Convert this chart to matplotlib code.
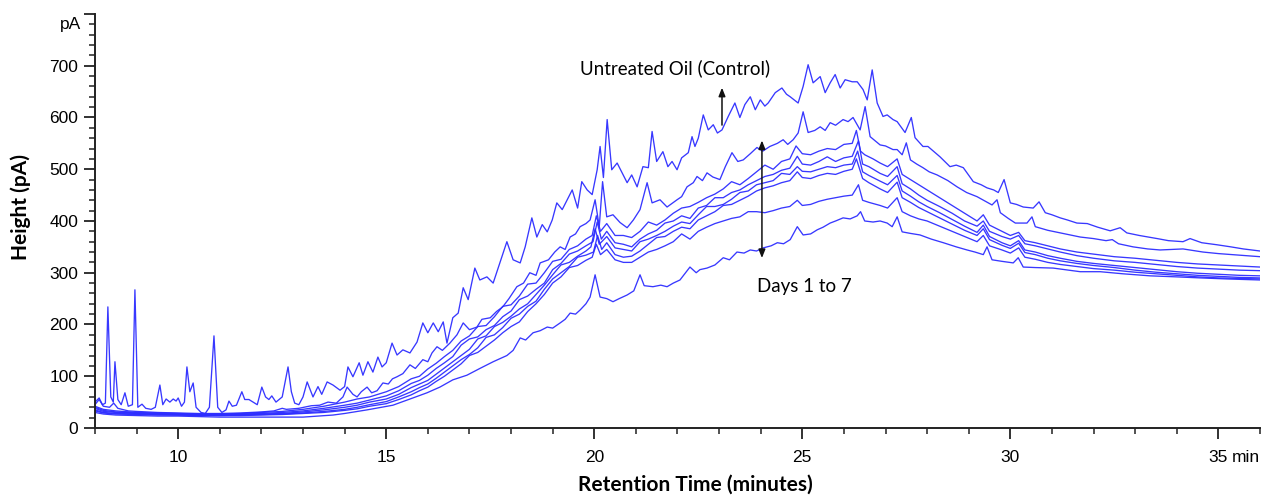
import matplotlib
matplotlib.use("Agg")
import matplotlib.pyplot as plt
from matplotlib.ticker import MultipleLocator

# ---------------- data (retention time in min, height in pA) ----------------
control = [
    (8.0, 50), (8.1, 58), (8.18, 45), (8.25, 48), (8.31, 234), (8.38, 60), (8.44, 50), (8.48, 128),
    (8.55, 55), (8.63, 45), (8.72, 68), (8.8, 42), (8.9, 45), (8.96, 267), (9.03, 40), (9.13, 46),
    (9.22, 38), (9.35, 36), (9.45, 40), (9.56, 83), (9.63, 45), (9.71, 56), (9.8, 50), (9.88, 56),
    (9.95, 52), (10.0, 58), (10.08, 42), (10.15, 50), (10.21, 118), (10.28, 70), (10.36, 87),
    (10.43, 40), (10.55, 30), (10.65, 28), (10.75, 40), (10.86, 178), (10.95, 40), (11.05, 30),
    (11.15, 35), (11.22, 52), (11.3, 42), (11.4, 44), (11.53, 70), (11.6, 55), (11.7, 55),
    (11.8, 50), (11.9, 45), (12.01, 79), (12.1, 60), (12.18, 55), (12.25, 62), (12.35, 50),
    (12.5, 60), (12.64, 118), (12.72, 70), (12.8, 48), (12.9, 45), (13.0, 60), (13.1, 89),
    (13.24, 60), (13.36, 80), (13.45, 65), (13.58, 89), (13.72, 83), (13.89, 73), (14.0, 80),
    (14.08, 118), (14.2, 99), (14.35, 126), (14.44, 102), (14.56, 128), (14.68, 108), (14.8, 137),
    (14.9, 118), (15.0, 126), (15.14, 164), (15.26, 141), (15.4, 151), (15.57, 145), (15.74, 166),
    (15.88, 203), (16.0, 184), (16.13, 203), (16.25, 186), (16.37, 205), (16.46, 164), (16.6, 213),
    (16.73, 222), (16.85, 271), (16.97, 248), (17.13, 309), (17.25, 286), (17.42, 292), (17.57, 280),
    (17.74, 321), (17.9, 360), (18.05, 325), (18.22, 319), (18.34, 350), (18.5, 406), (18.62, 369),
    (18.75, 393), (18.87, 379), (18.99, 402), (19.1, 435), (19.23, 422), (19.35, 441), (19.47, 460),
    (19.6, 425), (19.7, 476), (19.83, 460), (19.95, 451), (20.07, 499), (20.14, 544), (20.22, 484),
    (20.31, 596), (20.42, 499), (20.55, 512), (20.67, 493), (20.79, 474), (20.9, 489), (21.03, 466),
    (21.17, 505), (21.3, 503), (21.39, 573), (21.5, 515), (21.65, 534), (21.77, 505), (21.87, 515),
    (21.99, 499), (22.1, 522), (22.26, 532), (22.35, 563), (22.42, 544), (22.5, 560), (22.62, 605),
    (22.74, 576), (22.86, 586), (22.96, 570), (23.07, 576), (23.22, 602), (23.38, 628), (23.5, 600),
    (23.62, 625), (23.75, 640), (23.87, 615), (23.99, 634), (24.1, 622), (24.18, 628), (24.35, 648),
    (24.51, 657), (24.62, 645), (24.71, 640), (24.9, 628), (25.02, 660), (25.14, 702), (25.26, 667),
    (25.43, 679), (25.55, 648), (25.67, 667), (25.79, 683), (25.91, 657), (26.03, 673), (26.2, 669),
    (26.32, 669), (26.46, 654), (26.56, 634), (26.68, 692), (26.8, 628), (26.94, 602), (27.04, 605),
    (27.18, 596), (27.28, 592), (27.47, 571), (27.62, 600), (27.71, 561), (27.9, 544), (28.02, 544),
    (28.15, 535), (28.31, 524), (28.55, 505), (28.7, 508), (28.87, 503), (29.11, 476), (29.3, 470),
    (29.44, 464), (29.6, 460), (29.71, 455), (29.85, 480), (30.0, 435), (30.15, 432), (30.31, 427),
    (30.55, 425), (30.69, 437), (30.84, 416), (31.0, 412), (31.2, 406), (31.37, 402), (31.6, 396),
    (31.85, 395), (32.1, 388), (32.4, 381), (32.64, 387), (32.8, 377), (33.1, 372), (33.53, 366),
    (33.8, 362), (34.15, 360), (34.32, 366), (34.6, 358), (34.97, 354), (35.3, 350), (35.6, 346),
    (36.0, 342),
]

day_a = [
    (8.0, 45), (8.1, 55), (8.2, 42), (8.35, 40), (8.45, 48), (8.55, 38), (8.8, 33), (9.0, 32),
    (9.5, 30), (10.0, 29), (10.5, 28), (11.0, 28), (11.5, 29), (12.0, 31), (12.3, 33), (12.5, 38),
    (12.6, 36), (12.9, 38), (13.2, 43), (13.4, 44), (13.6, 50), (13.8, 48), (13.96, 60), (14.06, 79),
    (14.2, 65), (14.3, 60), (14.4, 70), (14.54, 79), (14.65, 68), (14.78, 72), (14.92, 87), (15.05, 85),
    (15.15, 95), (15.26, 99), (15.4, 105), (15.57, 122), (15.7, 115), (15.88, 132), (16.0, 128),
    (16.1, 145), (16.22, 157), (16.35, 150), (16.53, 164), (16.7, 180), (16.85, 203), (17.0, 190),
    (17.18, 195), (17.3, 210), (17.5, 213), (17.65, 225), (17.8, 234), (17.95, 250), (18.14, 273),
    (18.3, 280), (18.45, 300), (18.6, 295), (18.7, 319), (18.9, 325), (19.05, 340), (19.18, 350),
    (19.3, 345), (19.42, 369), (19.55, 375), (19.66, 389), (19.8, 395), (19.9, 402), (20.02, 441),
    (20.12, 389), (20.2, 476), (20.3, 408), (20.45, 412), (20.62, 397), (20.79, 387), (20.94, 402),
    (21.1, 422), (21.27, 474), (21.39, 435), (21.58, 441), (21.75, 427), (21.99, 441), (22.1, 447),
    (22.23, 466), (22.38, 474), (22.47, 486), (22.6, 478), (22.71, 493), (22.85, 485), (23.02, 480),
    (23.15, 505), (23.31, 532), (23.45, 515), (23.58, 518), (23.75, 530), (23.91, 542), (24.05, 535),
    (24.22, 544), (24.4, 550), (24.54, 557), (24.65, 548), (24.78, 557), (24.9, 570), (25.02, 611),
    (25.14, 571), (25.3, 575), (25.43, 582), (25.55, 575), (25.67, 590), (25.8, 585), (25.98, 596),
    (26.1, 592), (26.22, 600), (26.39, 576), (26.51, 621), (26.63, 563), (26.75, 555), (26.87, 547),
    (27.0, 545), (27.18, 538), (27.28, 538), (27.4, 528), (27.5, 551), (27.6, 518), (27.75, 510),
    (27.9, 503), (28.05, 495), (28.24, 489), (28.5, 478), (28.72, 466), (28.95, 455), (29.2, 447),
    (29.4, 438), (29.56, 431), (29.68, 441), (29.76, 416), (29.95, 405), (30.12, 396), (30.4, 396),
    (30.52, 408), (30.6, 389), (30.9, 382), (31.2, 377), (31.68, 369), (32.0, 366), (32.3, 362),
    (32.45, 364), (32.6, 356), (32.95, 350), (33.3, 346), (33.6, 344), (34.15, 346), (34.63, 340),
    (35.0, 337), (35.5, 334), (36.0, 331),
]

day_b = [
    (8.0, 42), (8.2, 36), (8.5, 33), (9.0, 30), (9.5, 29), (10.0, 28), (10.5, 27), (11.0, 27),
    (11.5, 28), (12.0, 30), (12.5, 32), (13.0, 36), (13.5, 42), (14.0, 50), (14.3, 56), (14.6, 60),
    (15.0, 70), (15.3, 80), (15.6, 95), (15.8, 100), (16.0, 114), (16.2, 125), (16.4, 138),
    (16.6, 150), (16.8, 168), (17.0, 178), (17.2, 196), (17.4, 198), (17.6, 215), (17.8, 235),
    (18.0, 238), (18.2, 255), (18.4, 278), (18.6, 280), (18.8, 300), (19.0, 322), (19.2, 326),
    (19.4, 345), (19.6, 352), (19.8, 365), (19.95, 372), (20.05, 410), (20.15, 380), (20.3, 395),
    (20.5, 372), (20.7, 372), (20.9, 368), (21.1, 380), (21.3, 398), (21.5, 392), (21.7, 402),
    (21.9, 415), (22.1, 425), (22.3, 428), (22.5, 436), (22.7, 445), (22.9, 452), (23.1, 462),
    (23.3, 476), (23.5, 470), (23.7, 482), (23.9, 495), (24.1, 508), (24.3, 500), (24.5, 515),
    (24.7, 520), (24.85, 545), (25.0, 530), (25.2, 528), (25.4, 535), (25.6, 540), (25.8, 538),
    (26.0, 548), (26.2, 550), (26.3, 575), (26.4, 535), (26.5, 528), (26.7, 520), (26.87, 512),
    (27.05, 505), (27.28, 520), (27.4, 490), (27.6, 480), (27.8, 470), (28.0, 460), (28.3, 445),
    (28.6, 430), (28.9, 415), (29.2, 400), (29.35, 412), (29.5, 392), (29.8, 380), (30.0, 372),
    (30.2, 378), (30.35, 362), (30.6, 358), (30.9, 352), (31.2, 346), (31.6, 340), (32.0, 336),
    (32.5, 331), (33.0, 328), (33.5, 324), (34.0, 320), (34.5, 317), (35.0, 315), (35.5, 313),
    (36.0, 311),
]

day_c = [
    (8.0, 40), (8.2, 34), (8.5, 31), (9.0, 29), (9.5, 28), (10.0, 27), (10.5, 26), (11.0, 26),
    (11.5, 27), (12.0, 28), (12.5, 30), (13.0, 33), (13.5, 38), (14.0, 44), (14.3, 48), (14.6, 54),
    (15.0, 62), (15.3, 72), (15.6, 86), (15.8, 92), (16.0, 102), (16.2, 115), (16.4, 126),
    (16.6, 138), (16.8, 160), (17.0, 172), (17.2, 176), (17.4, 190), (17.6, 198), (17.8, 215),
    (18.0, 226), (18.2, 248), (18.4, 255), (18.6, 268), (18.8, 280), (19.0, 306), (19.2, 318),
    (19.4, 336), (19.6, 342), (19.8, 352), (19.97, 360), (20.07, 398), (20.17, 365), (20.3, 380),
    (20.5, 358), (20.7, 355), (20.9, 350), (21.1, 365), (21.3, 375), (21.5, 382), (21.7, 396),
    (21.9, 400), (22.1, 410), (22.3, 405), (22.5, 425), (22.7, 430), (22.9, 445), (23.1, 445),
    (23.3, 455), (23.5, 460), (23.7, 470), (23.9, 478), (24.1, 486), (24.3, 490), (24.5, 498),
    (24.7, 502), (24.88, 525), (25.0, 510), (25.2, 508), (25.4, 515), (25.6, 524), (25.8, 515),
    (26.0, 522), (26.2, 525), (26.35, 555), (26.45, 510), (26.6, 505), (26.87, 492), (27.05, 486),
    (27.28, 505), (27.4, 472), (27.6, 462), (27.8, 450), (28.0, 440), (28.3, 428), (28.6, 415),
    (28.9, 400), (29.2, 390), (29.35, 400), (29.5, 380), (29.8, 370), (30.0, 365), (30.2, 372),
    (30.35, 356), (30.6, 352), (30.9, 346), (31.2, 340), (31.6, 333), (32.0, 328), (32.5, 323),
    (33.0, 320), (33.5, 316), (34.0, 312), (34.5, 309), (35.0, 307), (35.5, 305), (36.0, 304),
]

day_d = [
    (8.0, 38), (8.2, 32), (8.5, 30), (9.0, 28), (9.5, 27), (10.0, 26), (10.5, 25), (11.0, 25),
    (11.5, 26), (12.0, 27), (12.5, 28), (13.0, 31), (13.5, 35), (14.0, 40), (14.3, 44), (14.6, 50),
    (15.0, 56), (15.3, 65), (15.6, 78), (15.8, 85), (16.0, 92), (16.2, 104), (16.4, 116),
    (16.6, 128), (16.8, 140), (17.0, 152), (17.2, 172), (17.4, 178), (17.6, 196), (17.8, 204),
    (18.0, 216), (18.2, 230), (18.4, 240), (18.6, 258), (18.8, 276), (19.0, 296), (19.2, 315),
    (19.4, 320), (19.6, 332), (19.8, 342), (19.92, 350), (20.02, 385), (20.12, 355), (20.3, 370),
    (20.5, 348), (20.7, 345), (20.9, 342), (21.1, 360), (21.3, 365), (21.5, 372), (21.7, 380),
    (21.9, 390), (22.1, 398), (22.3, 395), (22.5, 412), (22.7, 428), (22.9, 428), (23.1, 432),
    (23.3, 442), (23.5, 455), (23.7, 458), (23.9, 470), (24.1, 474), (24.3, 478), (24.5, 492),
    (24.7, 490), (24.88, 505), (25.0, 496), (25.2, 495), (25.4, 500), (25.6, 505), (25.8, 503),
    (26.0, 508), (26.2, 510), (26.33, 535), (26.45, 495), (26.6, 488), (26.87, 477), (27.05, 470),
    (27.28, 488), (27.4, 458), (27.6, 448), (27.8, 437), (28.0, 428), (28.3, 416), (28.6, 403),
    (28.9, 390), (29.2, 378), (29.35, 392), (29.5, 370), (29.8, 358), (30.0, 352), (30.2, 362),
    (30.35, 344), (30.6, 340), (30.9, 333), (31.2, 328), (31.6, 322), (32.0, 318), (32.5, 314),
    (33.0, 310), (33.5, 306), (34.0, 302), (34.5, 299), (35.0, 297), (35.5, 295), (36.0, 294),
]

day_e = [
    (8.0, 35), (8.2, 30), (8.5, 28), (9.0, 27), (9.5, 26), (10.0, 25), (10.5, 25), (11.0, 24),
    (11.5, 25), (12.0, 26), (12.5, 27), (13.0, 29), (13.5, 32), (14.0, 36), (14.3, 40), (14.6, 45),
    (15.0, 51), (15.3, 60), (15.6, 70), (15.8, 78), (16.0, 85), (16.2, 96), (16.4, 108),
    (16.6, 120), (16.8, 132), (17.0, 142), (17.2, 155), (17.4, 175), (17.6, 180), (17.8, 194),
    (18.0, 212), (18.2, 220), (18.4, 235), (18.6, 245), (18.8, 268), (19.0, 288), (19.2, 300),
    (19.4, 312), (19.6, 330), (19.8, 334), (19.98, 340), (20.08, 372), (20.18, 345), (20.3, 358),
    (20.5, 335), (20.7, 330), (20.9, 332), (21.1, 342), (21.3, 355), (21.5, 368), (21.7, 370),
    (21.9, 380), (22.1, 388), (22.3, 385), (22.5, 402), (22.7, 410), (22.9, 418), (23.1, 430),
    (23.3, 432), (23.5, 440), (23.7, 448), (23.9, 458), (24.1, 464), (24.3, 468), (24.5, 474),
    (24.7, 478), (24.88, 495), (25.0, 484), (25.2, 482), (25.4, 488), (25.6, 492), (25.8, 490),
    (26.0, 496), (26.2, 500), (26.3, 520), (26.45, 482), (26.6, 474), (26.87, 462), (27.05, 455),
    (27.28, 475), (27.4, 445), (27.6, 436), (27.8, 426), (28.0, 418), (28.3, 406), (28.6, 394),
    (28.9, 382), (29.2, 372), (29.35, 385), (29.5, 364), (29.8, 353), (30.0, 347), (30.2, 357),
    (30.35, 339), (30.6, 335), (30.9, 328), (31.2, 323), (31.6, 318), (32.0, 314), (32.5, 310),
    (33.0, 305), (33.5, 301), (34.0, 298), (34.5, 295), (35.0, 293), (35.5, 291), (36.0, 290),
]

day_f = [
    (8.0, 33), (8.2, 29), (8.5, 27), (9.0, 26), (9.5, 25), (10.0, 25), (10.5, 24), (11.0, 24),
    (11.5, 24), (12.0, 25), (12.5, 26), (13.0, 28), (13.5, 30), (14.0, 34), (14.3, 37), (14.6, 42),
    (15.0, 47), (15.3, 55), (15.6, 64), (15.8, 72), (16.0, 79), (16.2, 90), (16.4, 100),
    (16.6, 112), (16.8, 124), (17.0, 140), (17.2, 146), (17.4, 158), (17.6, 170), (17.8, 184),
    (18.0, 196), (18.2, 205), (18.4, 225), (18.6, 240), (18.8, 258), (19.0, 280), (19.2, 292),
    (19.4, 310), (19.6, 314), (19.8, 324), (19.95, 330), (20.05, 355), (20.15, 335), (20.3, 345),
    (20.5, 325), (20.7, 320), (20.9, 320), (21.1, 330), (21.3, 340), (21.5, 345), (21.7, 352),
    (21.9, 360), (22.1, 375), (22.3, 365), (22.5, 380), (22.7, 388), (22.9, 395), (23.1, 400),
    (23.3, 405), (23.5, 408), (23.7, 418), (23.9, 418), (24.1, 416), (24.3, 420), (24.5, 425),
    (24.7, 428), (24.88, 440), (25.0, 430), (25.2, 432), (25.4, 438), (25.6, 442), (25.8, 445),
    (26.0, 448), (26.2, 450), (26.35, 470), (26.45, 440), (26.6, 436), (26.87, 430), (27.05, 425),
    (27.28, 445), (27.4, 418), (27.6, 410), (27.8, 404), (28.0, 400), (28.3, 390), (28.6, 380),
    (28.9, 370), (29.2, 360), (29.35, 372), (29.5, 352), (29.8, 344), (30.0, 338), (30.2, 348),
    (30.35, 330), (30.6, 326), (30.9, 320), (31.2, 316), (31.6, 312), (32.0, 308), (32.5, 305),
    (33.0, 301), (33.5, 298), (34.0, 295), (34.5, 292), (35.0, 290), (35.5, 289), (36.0, 288),
]

day_g = [
    (8.0, 30), (8.2, 27), (8.5, 25), (9.0, 24), (9.5, 23), (10.0, 23), (10.5, 22), (11.0, 21),
    (11.5, 21), (12.0, 21), (12.5, 21), (13.0, 21), (13.72, 25), (14.0, 28), (14.54, 35),
    (15.16, 44), (15.64, 58), (15.98, 68), (16.29, 79), (16.6, 93), (16.94, 102), (17.25, 115),
    (17.57, 128), (17.9, 140), (18.05, 150), (18.22, 174), (18.35, 170), (18.53, 184), (18.7, 188),
    (18.87, 195), (19.0, 193), (19.18, 203), (19.3, 210), (19.42, 222), (19.55, 220), (19.66, 228),
    (19.8, 240), (19.9, 253), (20.02, 296), (20.14, 253), (20.3, 250), (20.45, 244), (20.6, 250),
    (20.79, 257), (20.95, 265), (21.1, 296), (21.2, 275), (21.41, 273), (21.6, 276), (21.75, 273),
    (21.9, 280), (22.06, 286), (22.3, 311), (22.45, 300), (22.54, 306), (22.71, 309), (22.9, 315),
    (23.1, 329), (23.25, 325), (23.43, 340), (23.6, 338), (23.75, 344), (23.9, 342), (24.06, 348),
    (24.25, 352), (24.4, 358), (24.55, 356), (24.71, 364), (24.88, 389), (25.02, 373), (25.2, 375),
    (25.36, 383), (25.5, 388), (25.67, 396), (25.8, 400), (25.98, 406), (26.15, 404), (26.32, 410),
    (26.4, 418), (26.5, 400), (26.7, 398), (26.87, 400), (27.04, 396), (27.16, 389), (27.28, 408),
    (27.4, 379), (27.6, 376), (27.83, 373), (28.1, 365), (28.39, 358), (28.7, 350), (28.96, 344),
    (29.15, 340), (29.35, 335), (29.44, 350), (29.56, 325), (29.8, 322), (30.07, 319), (30.19, 329),
    (30.31, 311), (30.6, 310), (31.03, 309), (31.4, 305), (31.68, 302), (32.16, 302), (32.7, 298),
    (33.36, 294), (34.0, 292), (34.56, 290), (35.2, 288), (36.0, 286),
]

traces = [control, day_a, day_b, day_c, day_d, day_e, day_f, day_g]

x_major = [10, 15, 20, 25, 30, 35]
x_labels = ["10", "15", "20", "25", "30", "35"]
y_major = [0, 100, 200, 300, 400, 500, 600, 700]
y_labels = ["0", "100", "200", "300", "400", "500", "600", "700"]

# ---------------- figure ----------------
fig = plt.figure(figsize=(12.63, 4.98), dpi=100)
ax = fig.add_axes([0.0752, 0.1406, 0.9224, 0.8313])

line_color = "#2d2dff"
for tr in traces:
    ts = [p[0] for p in tr]
    vs = [p[1] for p in tr]
    ax.plot(ts, vs, color=line_color, lw=0.95, alpha=0.95)

ax.set_xlim(8, 36)
ax.set_ylim(0, 800)

for s in ("top", "right"):
    ax.spines[s].set_visible(False)
for s in ("left", "bottom"):
    ax.spines[s].set_linewidth(1.4)
    ax.spines[s].set_color("#222222")

ax.set_xticks(x_major)
ax.set_xticklabels(x_labels)
ax.xaxis.set_minor_locator(MultipleLocator(1))
ax.set_yticks(y_major + [800])
ax.set_yticklabels(y_labels + [""])
ax.yaxis.set_minor_locator(MultipleLocator(20))

ax.tick_params(axis="both", which="major", length=8, width=1.3, color="#222222", labelsize=12.5)
ax.tick_params(axis="both", which="minor", length=4, width=1.1, color="#222222")
ax.tick_params(axis="x", which="major", pad=8)
ax.tick_params(axis="y", which="major", pad=4)
for lab in ax.get_xticklabels() + ax.get_yticklabels():
    lab.set_fontfamily("Liberation Sans")

# unit labels on axes
ax.text(-0.012, 780, "pA", transform=ax.get_yaxis_transform(), ha="right", va="center",
        fontsize=12.5, family="Liberation Sans")
ax.annotate("min", xy=(35.33, 0), xycoords=("data", "axes fraction"),
            xytext=(0, -16), textcoords="offset points", ha="left", va="top",
            fontsize=12.5, family="Liberation Sans")

ax.set_xlabel("Retention Time (minutes)", fontsize=15, fontweight="bold", family="Lato", va="center")
ax.set_ylabel("Height (pA)", fontsize=15, fontweight="bold", family="Lato", va="center")
ax.xaxis.set_label_coords(0.515, -0.1377)
ax.yaxis.set_label_coords(-0.064, 0.534)

# annotations
ax.text(19.65, 696, "Untreated Oil (Control)", fontsize=13.5, family="Lato", ha="left", va="center")
ax.annotate("", xy=(23.07, 663), xytext=(23.07, 580),
            arrowprops=dict(arrowstyle="-|>,head_length=0.5,head_width=0.2", color="#111111", lw=1.1))
ax.annotate("", xy=(24.03, 561), xytext=(24.03, 323),
            arrowprops=dict(arrowstyle="<|-|>,head_length=0.5,head_width=0.2", color="#111111", lw=1.1))
ax.text(23.9, 273, "Days 1 to 7", fontsize=13.5, family="Lato", ha="left", va="center")

fig.savefig("out.png", dpi=100)
